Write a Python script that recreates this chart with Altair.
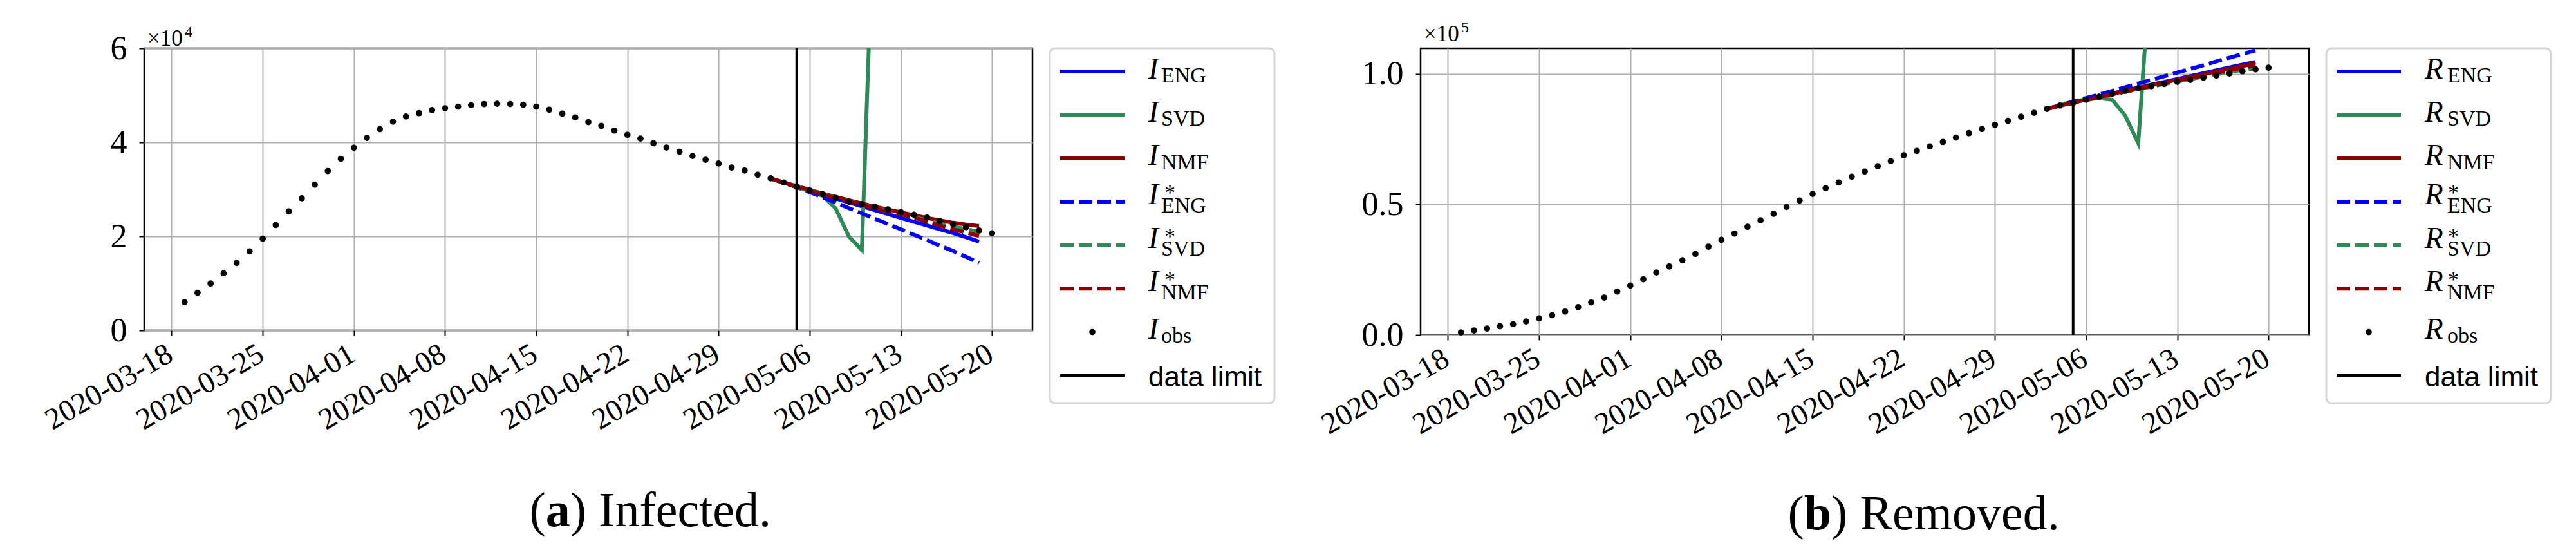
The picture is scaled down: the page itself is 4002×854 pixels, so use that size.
import altair as alt
import pandas as pd

# ---------------- data ----------------
FIRST_DAY = "2020-03-19"
N_DAYS = 63
PRED_START = 45          # index of 2020-05-03
DATA_LIMIT = "2020-05-05"
TICK_DATES = ["2020-03-18", "2020-03-25", "2020-04-01", "2020-04-08", "2020-04-15",
              "2020-04-22", "2020-04-29", "2020-05-06", "2020-05-13", "2020-05-20"]

I_OBS = [6000, 8000, 9970, 12140, 14340, 16800, 19500, 22400, 25300, 28100,
         31000, 33900, 36500, 38850, 40950, 42800, 44400, 45500, 46200, 46850,
         47250, 47600, 47900, 48150, 48200, 48150, 48000, 47600, 46950, 46100,
         45300, 44300, 43500, 42500, 41600, 40800, 39800, 38900, 38000, 37100,
         36300, 35500, 34650, 34000, 33100, 32350, 31450, 30580, 29750, 28960,
         28180, 27350, 26850, 26300, 25750, 25150, 24600, 24000, 23250, 22550,
         21930, 21240, 20640]
I_ENG = [32300, 31450, 30600, 29750, 28900, 28050, 27200, 26380, 25560, 24740,
         23920, 23110, 22300, 21500, 20700, 19800, 18900]
I_SVD = [32300, 31400, 30500, 29600, 28600, 25900, 20000, 17100, 98000]
I_NMF = [32300, 31500, 30700, 29900, 29100, 28400, 27700, 27000, 26300, 25700,
         25100, 24500, 23900, 23400, 22900, 22500, 22200]
I_ENG_S = [32300, 31400, 30450, 29400, 28300, 27200, 26000, 24900, 23750, 22600,
           21500, 20350, 19200, 18000, 16900, 15650, 14350]
I_SVD_S = [32300, 31450, 30600, 29800, 29000, 28250, 27500, 26800, 26100, 25400,
           24700, 24100, 23400, 22700, 22100, 21500, 21000]
I_NMF_S = [32300, 31400, 30500, 29700, 28900, 28100, 27400, 26700, 26000, 25300,
           24700, 24000, 23100, 22300, 21500, 20800, 20100]

R_OBS = [980, 1720, 2450, 3290, 4100, 5150, 6300, 7530, 8930, 10640,
         12440, 14300, 16600, 18900, 21300, 23900, 26200, 28600, 31000, 33800,
         36400, 38800, 41400, 43900, 46400, 49000, 51500, 54000, 56200, 58400,
         60600, 62600, 64600, 66600, 68800, 70500, 72200, 73900, 75600, 77300,
         78900, 80500, 82000, 83600, 85100, 86600, 87900, 88890, 90110, 91240,
         92470, 93540, 94530, 95260, 96150, 96970, 97700, 98530, 99340, 100170,
         100980, 101720, 102370]
R_ENG = [86600, 87900, 89050, 90200, 91350, 92500, 93650, 94750, 95850, 96950,
         98050, 99150, 100250, 101350, 102450, 103550, 104600]
R_SVD = [86600, 88000, 89300, 90300, 90700, 90100, 84000, 73400, 146000]
R_NMF = [86600, 87850, 89000, 90150, 91250, 92350, 93450, 94550, 95650, 96700,
         97750, 98800, 99850, 100900, 101950, 103000, 104000]
R_ENG_S = [86600, 88050, 89400, 90750, 92100, 93500, 94900, 96300, 97700, 99100,
           100500, 101900, 103300, 104800, 106200, 107600, 109000]
R_SVD_S = [86600, 87800, 88900, 89950, 91000, 92050, 93100, 94100, 95100, 96100,
           97050, 98000, 98950, 99850, 100750, 101450, 102100]
R_NMF_S = [86600, 87800, 88900, 90000, 91100, 92200, 93250, 94300, 95350, 96400,
           97400, 98400, 99400, 100400, 101400, 102400, 103300]

SERIES_KEYS = ["ENG", "SVD", "NMF", "ENG*", "SVD*", "NMF*"]
SERIES_COLORS = ["#0000ff", "#2e8b57", "#8b0000", "#0000ff", "#2e8b57", "#8b0000"]

LEG_KEYS = ["ENG", "SVD", "NMF", "ENG*", "SVD*", "NMF*", "obs", "limit"]
LEG_SUBS = ["ENG", "SVD", "NMF", "ENG", "SVD", "NMF", "obs", ""]
LEG_STAR = [False, False, False, True, True, True, False, False]
LEG_KIND = ["solid", "solid", "solid", "dashed", "dashed", "dashed", "dot", "limit"]

DAYS = pd.date_range(FIRST_DAY, periods=N_DAYS, freq="D").strftime("%Y-%m-%d").tolist()

SERIF = "Liberation Serif"
SANS = "Liberation Sans"
DASH = [21, 8]


def dt(s, h=0, m=0):
    y, mo, d = (int(v) for v in s.split("-"))
    return alt.DateTime(year=y, month=mo, date=d, hours=h, minutes=m, utc=True)


X_DOMAIN = [dt("2020-03-15", 21, 36), dt("2020-05-23", 2, 24)]


def panel(obs, preds, ymax, yticks, label_expr, exp_digit, exp_y, cap_letter,
          cap_rest, cap_x, cap_y, cap_w, height):
    xaxis = alt.Axis(values=[dt(d) for d in TICK_DATES],
                     labelExpr="utcFormat(datum.value, '%Y-%m-%d')",
                     labelAngle=330, labelAlign="right", labelLimit=0,
                     labelBaseline="top", labelFont=SERIF, labelFontSize=47,
                     labelColor="black", labelPadding=5, labelOffset=-14,
                     labelOverlap=False, labelFlush=False, labelBound=False,
                     tickSize=8, tickWidth=2, tickColor="black", domain=False,
                     grid=True, gridColor="#b0b0b0", gridWidth=2)
    yaxis = alt.Axis(values=yticks, labelExpr=label_expr, labelFont=SERIF,
                     labelFontSize=52, labelColor="black", labelPadding=19,
                     labelOverlap=False, labelFlush=False, labelBound=False,
                     tickSize=8, tickWidth=2, tickColor="black", domain=False,
                     grid=True, gridColor="#b0b0b0", gridWidth=2)
    X = alt.X("date:T", scale=alt.Scale(type="utc", domain=X_DOMAIN), axis=xaxis, title=None)
    Y = alt.Y("value:Q", scale=alt.Scale(domain=[0, ymax], nice=False, zero=False),
              axis=yaxis, title=None)

    layers = []
    for key, color in zip(SERIES_KEYS, SERIES_COLORS):
        vals = preds[key]
        df = pd.DataFrame({"date": DAYS[PRED_START:PRED_START + len(vals)], "value": vals})
        kw = dict(color=color, strokeWidth=6, clip=True)
        if key.endswith("*"):
            kw["strokeDash"] = DASH
        layers.append(alt.Chart(df).mark_line(**kw).encode(x=X, y=Y))

    obs_df = pd.DataFrame({"date": DAYS, "value": obs})
    layers.append(alt.Chart(obs_df).mark_point(filled=True, size=95, color="black",
                                               opacity=1).encode(x=X, y=Y))
    layers.append(alt.Chart(pd.DataFrame({"date": [DATA_LIMIT]}))
                  .mark_rule(color="black", strokeWidth=4).encode(x=X))

    # exponent label
    layers.append(alt.Chart(pd.DataFrame({"t": ["\u00d710"]}))
                  .mark_text(font=SERIF, fontSize=35, align="left", baseline="alphabetic",
                             color="black")
                  .encode(text="t:N", x=alt.value(5), y=alt.value(exp_y)))
    layers.append(alt.Chart(pd.DataFrame({"t": [exp_digit]}))
                  .mark_text(font=SERIF, fontSize=24, align="left", baseline="alphabetic",
                             color="black")
                  .encode(text="t:N", x=alt.value(63), y=alt.value(exp_y - 14)))

    # caption "(a) Infected."
    layers.append(alt.Chart(pd.DataFrame({"t": ["("]}))
                  .mark_text(font=SERIF, fontSize=76, align="left", baseline="alphabetic",
                             color="black")
                  .encode(text="t:N", x=alt.value(cap_x), y=alt.value(cap_y)))
    layers.append(alt.Chart(pd.DataFrame({"t": [cap_letter]}))
                  .mark_text(font=SERIF, fontSize=76, fontWeight="bold", align="left",
                             baseline="alphabetic", color="black")
                  .encode(text="t:N", x=alt.value(cap_x + 25.3), y=alt.value(cap_y)))
    layers.append(alt.Chart(pd.DataFrame({"t": [") " + cap_rest]}))
                  .mark_text(font=SERIF, fontSize=76, align="left", baseline="alphabetic",
                             color="black")
                  .encode(text="t:N", x=alt.value(cap_x + 25.3 + cap_w), y=alt.value(cap_y)))

    return alt.layer(*layers).properties(
        width=1380, height=height,
        view=alt.ViewBackground(stroke="black", strokeWidth=2.5, fill="white"))


def legend(letter, sub_x, star_x):
    df = pd.DataFrame({"key": LEG_KEYS, "sub": LEG_SUBS, "star": LEG_STAR,
                       "kind": LEG_KIND, "letter": [letter] * len(LEG_KEYS)})
    Yk = alt.Y("key:N", scale=alt.Scale(type="point", domain=LEG_KEYS, range=[36, 508],
                                        padding=0), axis=None)
    base = alt.Chart(df)
    handles = base.mark_rule(strokeWidth=6).encode(
        x=alt.value(16), x2=alt.value(116), y=Yk,
        color=alt.Color("key:N", scale=alt.Scale(domain=SERIES_KEYS, range=SERIES_COLORS),
                        legend=None),
        strokeDash=alt.StrokeDash("kind:N", scale=alt.Scale(domain=["solid", "dashed"],
                                                           range=[[1, 0], DASH]),
                                  legend=None),
    ).transform_filter("datum.kind == 'solid' || datum.kind == 'dashed'")
    limit = base.mark_rule(strokeWidth=4, color="black").encode(
        x=alt.value(16), x2=alt.value(116), y=Yk).transform_filter("datum.kind == 'limit'")
    dot = base.mark_point(filled=True, size=95, color="black", opacity=1).encode(
        x=alt.value(66), y=Yk).transform_filter("datum.kind == 'dot'")
    let_plain = base.mark_text(font=SERIF, fontStyle="italic", fontSize=47, align="left",
                               baseline="alphabetic", dy=10.5, color="black").encode(
        x=alt.value(153), y=Yk, text="letter:N"
    ).transform_filter("datum.kind != 'limit' && !datum.star")
    let_star = base.mark_text(font=SERIF, fontStyle="italic", fontSize=47, align="left",
                              baseline="alphabetic", dy=4, color="black").encode(
        x=alt.value(153), y=Yk, text="letter:N"
    ).transform_filter("datum.star")
    sub = base.mark_text(font=SERIF, fontSize=34, align="left", baseline="alphabetic",
                         dy=16.7, color="black").encode(
        x=alt.value(sub_x), y=Yk, text="sub:N").transform_filter("datum.kind != 'limit'")
    star = base.mark_text(font=SERIF, fontSize=34, align="left", baseline="alphabetic",
                          dy=-3, color="black", text="*").encode(
        x=alt.value(star_x), y=Yk).transform_filter("datum.star")
    limit_txt = base.mark_text(font=SANS, fontSize=44, align="left", baseline="alphabetic",
                               dy=16.7, color="black", text="data limit").encode(
        x=alt.value(153), y=Yk).transform_filter("datum.kind == 'limit'")
    return alt.layer(handles, limit, dot, let_plain, let_star, sub, star, limit_txt).properties(
        width=349, height=551,
        view=alt.ViewBackground(stroke="#d6d6d6", strokeWidth=3, cornerRadius=8, fill="white"))


preds_I = {"ENG": I_ENG, "SVD": I_SVD, "NMF": I_NMF,
           "ENG*": I_ENG_S, "SVD*": I_SVD_S, "NMF*": I_NMF_S}
preds_R = {"ENG": R_ENG, "SVD": R_SVD, "NMF": R_NMF,
           "ENG*": R_ENG_S, "SVD*": R_SVD_S, "NMF*": R_NMF_S}

plotA = panel(I_OBS, preds_I, 60000, [0, 20000, 40000, 60000],
              "format(datum.value / 10000, 'd')", "4", -4.3,
              "a", "Infected.", 598.5, 742, 38, 438)
plotB = panel(R_OBS, preds_R, 109800, [0, 50000, 100000],
              "format(datum.value / 100000, '.1f')", "5", -11,
              "b", "Removed.", 570.5, 747, 42.3, 445)
legA = legend("I", 173, 178)
legB = legend("R", 188, 189)

spacer = alt.Chart(pd.DataFrame({"a": [0]})).mark_point(opacity=0).encode(
    x=alt.value(0), y=alt.value(0)).properties(
    width=173, height=10, view=alt.ViewBackground(strokeOpacity=0))

chart = alt.hconcat(plotA, legA, spacer, plotB, legB, spacing=27, bounds="flush").properties(
    padding={"left": 52, "top": 21, "right": 5, "bottom": 5}
).configure(background="white")

chart.save("out.html", embed_options={"renderer": "svg", "actions": False})
